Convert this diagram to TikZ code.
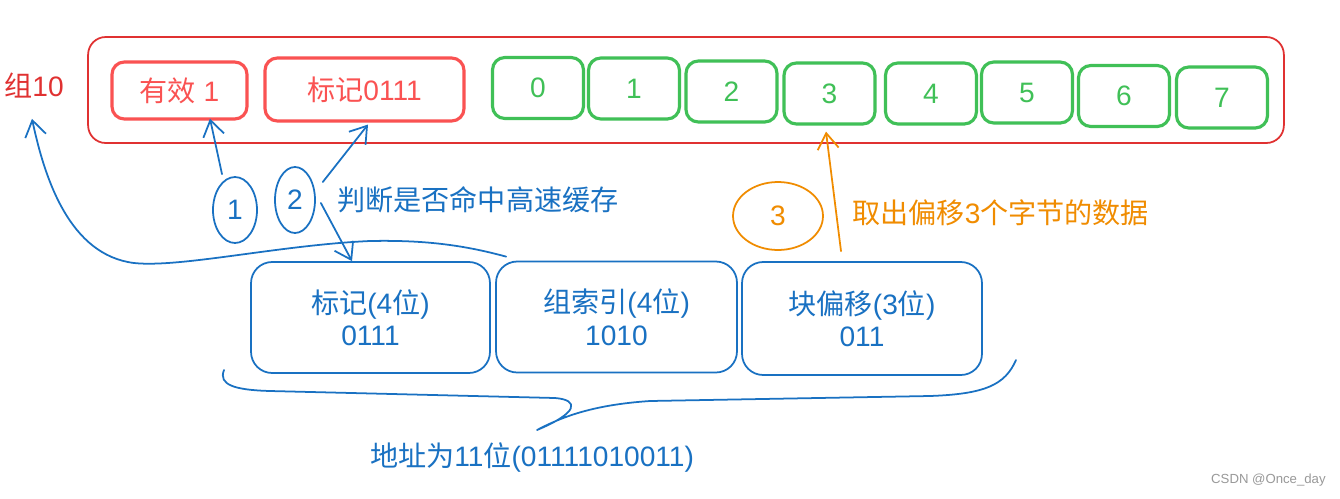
\documentclass[tikz,border=0pt]{standalone}
\usepackage{fontspec}
\setmainfont{Liberation Sans}
\newfontfamily\cjk{Noto Sans CJK SC}
\usetikzlibrary{arrows.meta,shapes.geometric}
\definecolor{xred}{HTML}{E03131}
\definecolor{xlred}{HTML}{FA5252}
\definecolor{xgreen}{HTML}{40C057}
\definecolor{xblue}{HTML}{1971C2}
\definecolor{xorange}{HTML}{F08C00}
\definecolor{xgray}{HTML}{999999}
\tikzset{
 arr/.style={-{Straight Barb[length=9pt,width=12pt]}, line width=1pt, line cap=round},
 redbox/.style={draw=xlred, text=xlred, line width=1.8pt, rounded corners=7pt, inner sep=0pt},
 grnbox/.style={draw=xgreen, text=xgreen, line width=1.8pt, rounded corners=7pt, minimum width=1.82cm, minimum height=1.22cm, inner sep=0pt},
 bluebox/.style={draw=xblue, text=xblue, line width=1pt, rounded corners=12pt, minimum width=4.8cm, minimum height=2.22cm, align=center, inner sep=0pt},
 numcirc/.style={ellipse, draw, line width=1pt, inner sep=0pt},
}
\begin{document}
\begin{tikzpicture}[x=0.02cm,y=-0.02cm,font=\fontsize{16}{18.5}\selectfont]
\useasboundingbox[fill=white] (0,0) rectangle (1340,498);
% outer cache line
\node[draw=xred, line width=1pt, rounded corners=10pt, minimum width=23.92cm, minimum height=2.12cm, inner sep=0pt] (line) at (686,90) {};
\node[text=xred] (g10) at (34,86) {{\cjk 组}10};
\node[redbox, minimum width=2.7cm, minimum height=1.14cm] (valid) at (179.5,90.5) {{\cjk 有效} 1};
\node[redbox, minimum width=3.98cm, minimum height=1.26cm] (tag) at (364.5,89.5) {{\cjk 标记}0111};
\node[grnbox] (b0) at (538,88) {0};
\node[grnbox] (b1) at (634,88.5) {1};
\node[grnbox] (b2) at (731.5,91.5) {2};
\node[grnbox] (b3) at (829.5,93.5) {3};
\node[grnbox] (b4) at (931,93.5) {4};
\node[grnbox] (b5) at (1027,92.5) {5};
\node[grnbox] (b6) at (1124,96) {6};
\node[grnbox] (b7) at (1222,97.5) {7};
% address fields
\node[bluebox, minimum width=4.78cm] (fa) at (370.5,317.5) {{\cjk 标记}(4{\cjk 位})\\0111};
\node[bluebox, minimum width=4.82cm] (fb) at (616.5,317) {{\cjk 组索引}(4{\cjk 位})\\1010};
\node[bluebox, minimum height=2.26cm] (fc) at (862,318.5) {{\cjk 块偏移}(3{\cjk 位})\\011};
% step circles
\node[numcirc, draw=xblue, text=xblue, minimum width=0.88cm, minimum height=1.32cm] (c1) at (235,210) {1};
\node[numcirc, draw=xblue, text=xblue, minimum width=0.8cm, minimum height=1.32cm] (c2) at (295,200) {2};
\node[numcirc, draw=xorange, text=xorange, minimum width=1.8cm, minimum height=1.36cm] (c3) at (778,216) {3};
% labels
\node[text=xblue, anchor=west, inner sep=0pt] (hit) at (337,200) {\cjk 判断是否命中高速缓存};
\node[text=xorange, anchor=west, inner sep=0pt] (fetch) at (852,213) {{\cjk 取出偏移}3{\cjk 个字节的数据}};
\node[text=xblue, inner sep=0pt] (addr) at (532,457) {{\cjk 地址为}11{\cjk 位}(01111010011)};
\node[text=xgray, anchor=east, inner sep=0pt, font=\fontsize{7.5}{9}\selectfont] (csdn) at (1326,480) {CSDN @Once\_day};
% arrows
\draw[arr, xblue] ([xshift=-0.26cm,yshift=0.04cm]c1.north) -- ([xshift=0.61cm,yshift=0.04cm]valid.south);
\draw[arr, xblue] ([xshift=0.26cm,yshift=-0.12cm]c2.north east) -- ([xshift=0.07cm,yshift=-0.04cm]tag.south);
\draw[arr, xblue] ([xshift=0.1cm,yshift=-0.06cm]c2.east) -- ([xshift=-0.37cm]fa.north);
\draw[arr, xorange] ([xshift=-0.42cm,yshift=0.2cm]fc.north) -- ([xshift=-0.07cm,yshift=-0.12cm]b3.south);
\coordinate (cs) at ([xshift=0.22cm,yshift=0.08cm]fb.north west);
\draw[arr, xblue] (cs) .. controls (460,244) and (420,240) .. (370,241)
  .. controls (280,245) and (180,268) .. (134,263)
  .. controls (70,255) and (45,180) .. ([xshift=-0.04cm,yshift=-0.28cm]g10.south);
% brace
\coordinate (bl) at (224,370);
\coordinate (br) at (1016,360);
\draw[xblue, line width=1pt, line cap=round, line join=round] (bl) .. controls (218,385) and (235,390) .. (270,391)
  -- (555,398) .. controls (580,400) and (578,413) .. (537,430)
  .. controls (560,418) and (590,405) .. (650,401)
  -- (930,396) .. controls (985,394) and (1005,385) .. (br);
\end{tikzpicture}
\end{document}
